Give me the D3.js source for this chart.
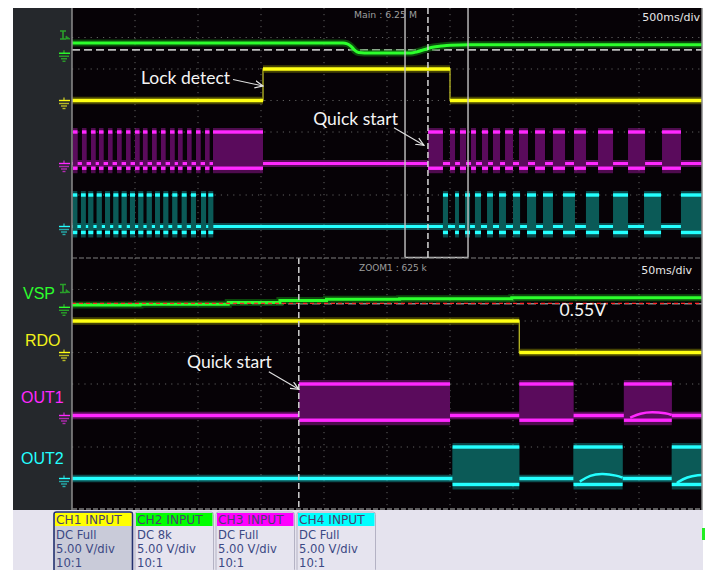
<!DOCTYPE html>
<html><head><meta charset="utf-8">
<script src="https://cdn.jsdelivr.net/npm/d3@7/dist/d3.min.js"></script>
<style>html,body{margin:0;padding:0;background:#fff;} svg{display:block;}</style>
</head><body><svg id="c" width="712" height="570"></svg>
<script>
// ================= DATA =================
const mainWindowMs = [0, 5000];          // Main : 500 ms/div, 10 divisions
const zoomWindowMs = [0, 500];           // ZOOM1 : 50 ms/div
const zoomBoxInMainMs = [2643, 3143];    // zoom window shown inside the main view
const quickStartMainMs = 2825;
const quickStartZoomMs = 180;
const lockDetectMs = 1516;

const channelIds   = ["CH1", "CH2", "CH3", "CH4"];
const channelNames = ["RDO", "VSP", "OUT1", "OUT2"];
const couplings    = ["DC Full", "DC 8k", "DC Full", "DC Full"];
const scaleTexts   = ["5.00 V/div", "5.00 V/div", "5.00 V/div", "5.00 V/div"];
const probeTexts   = ["10:1", "10:1", "10:1", "10:1"];
const voltsPerDiv  = [5, 5, 5, 5];
const groundDivMain = [3, 1.5, 5, 7];    // channel offsets (divisions from top)
const groundDivZoom = [3, 1.55, 5, 7];
const vspThresholdV = 0.55;
const vspTriggerV = 2.9;

// main view (ms, V)
const mainRdo = [[0,0],[1516,0],[1516,5],[3000,5],[3000,0],[5000,0]];
const mainVsp = [[0,1.62],[2150,1.62],[2185,1.5],[2215,1.1],[2245,0.45],[2275,0.12],[2320,0.05],[2690,0.05],[2740,0.25],[2800,0.6],[2860,0.95],[2930,1.15],[3000,1.28],[3150,1.33],[5000,1.33]];
const mainOut1Bursts = [[8,44],[79,115],[151,187],[214,250],[286,321],[357,393],[429,464],[500,536],[563,599],[635,671],[706,742],[778,814],[841,877],[913,948],[984,1020],[1056,1091],[1119,1516],
  [2825,2944],[3000,3040],[3079,3127],[3167,3206],[3254,3302],[3341,3397],[3437,3500],[3548,3619],[3675,3754],[3817,3913],[3984,4079],[4175,4294],[4413,4548],[4683,4833]];
const mainOut2Bursts = [[6,42],[71,109],[129,169],[196,236],[262,302],[328,368],[394,434],[460,500],[526,566],[593,633],[659,698],[725,764],[796,836],[871,910],[944,984],[1024,1064],[1082,1121],
  [2944,2984],[3040,3071],[3119,3159],[3198,3246],[3294,3341],[3389,3444],[3500,3556],[3611,3683],[3738,3817],[3897,3992],[4079,4183],[4294,4413],[4540,4675],[4833,5000]];

// zoom view (ms, V)
const zoomRdo = [[0,5],[355,5],[355,0],[500,0]];
const zoomVsp = [[0,0.29],[54,0.4],[124,0.7],[165,1.0],[202,1.2],[260,1.3],[349,1.44],[500,1.44]];
const zoomOut1Bursts = [[180,300],[355,398],[438,476]];
const zoomOut2Bursts = [[302,355],[398,437],[476,500]];
const zoomOut1Arcs = [[[443,-0.35],[451,0.35],[460,0.6],[472,0.35],[476,0.08]]];
const zoomOut2Arcs = [[[403,-0.5],[411,0.55],[421,0.83],[433,0.44],[437,0.13]],[[480,-0.71],[488,0.28],[498,0.55],[500,0.56]]];
const out1BurstV = [5, -0.75];
const out2BurstV = [5, -0.95];

// ================= STYLE =================
const chColor = ["#ffff14", "#2cff2c", "#ff28ff", "#24ffff"];
const chHalo  = ["#6f6f00", "#127a12", "#8a148a", "#0f7f7f"];
const chFill  = ["#5a5a00", "#0a500a", "#5a0b5c", "#0b5a57"];
const chDim   = ["#b9b925", "#2aa02a", "#b12ab1", "#25adad"];
const headerColor = ["#ffff00", "#00ff00", "#ff00ff", "#00ffff"];

const svg = d3.select("#c");
const X0 = 72, X1 = 702;
const xMain = d3.scaleLinear().domain(mainWindowMs).range([X0, X1]);
const xZoom = d3.scaleLinear().domain(zoomWindowMs).range([X0, X1]);
const divMain = d3.scaleLinear().domain([0, 8]).range([6, 258]);
const divZoom = d3.scaleLinear().domain([0, 8]).range([258, 510]);
const chY = (divScale, grounds, ch) => v => divScale(grounds[ch] - v / voltsPerDiv[ch]);

// backgrounds
svg.append("rect").attr("width", 712).attr("height", 570).attr("fill", "#ffffff");
svg.append("rect").attr("x", 13).attr("y", 8).attr("width", X0 - 13).attr("height", 502).attr("fill", "#25282c");
svg.append("rect").attr("x", X0).attr("y", 8).attr("width", X1 - X0).attr("height", 502).attr("fill", "#060206");
svg.append("rect").attr("x", 13).attr("y", 510).attr("width", 690).attr("height", 60).attr("fill", "#e5e3ee");

const defs = svg.append("defs");
defs.append("clipPath").attr("id", "clipMain").append("rect").attr("x", X0).attr("y", 8).attr("width", X1 - X0).attr("height", 250);
defs.append("clipPath").attr("id", "clipZoom").append("rect").attr("x", X0).attr("y", 258).attr("width", X1 - X0).attr("height", 252);
defs.append("marker").attr("id", "arr").attr("viewBox", "0 0 10 10").attr("refX", 9).attr("refY", 5)
  .attr("markerWidth", 9).attr("markerHeight", 9).attr("markerUnits", "userSpaceOnUse").attr("orient", "auto")
  .append("path").attr("d", "M0,1 L9,5 L0,9").attr("fill", "none").attr("stroke", "#e8e8e8").attr("stroke-width", 1.3);

function grid(x, divScale, y0, y1) {
  const g = svg.append("g");
  x.ticks(10).slice(1, -1).forEach(t => {
    g.append("line").attr("x1", x(t)).attr("x2", x(t)).attr("y1", y0).attr("y2", y1)
      .attr("stroke", "#5e5e5e").attr("stroke-width", 1).attr("stroke-dasharray", "1.2,4.8");
  });
  divScale.ticks(8).slice(1, -1).forEach(d => {
    g.append("line").attr("x1", X0).attr("x2", X1).attr("y1", divScale(d)).attr("y2", divScale(d))
      .attr("stroke", "#5e5e5e").attr("stroke-width", 1).attr("stroke-dasharray", "1.2,5");
  });
}
grid(xMain, divMain, 8, 258);
grid(xZoom, divZoom, 258, 510);

function trace(g, data, x, y, ch, w, curve) {
  const line = d3.line().x(d => x(d[0])).y(d => y(d[1])).curve(curve || d3.curveLinear);
  g.append("path").attr("d", line(data)).attr("fill", "none").attr("stroke", chHalo[ch])
    .attr("stroke-width", w + 4).attr("stroke-opacity", 0.6);
  g.append("path").attr("d", line(data)).attr("fill", "none").attr("stroke", chColor[ch]).attr("stroke-width", w);
}
// logic-level trace: thin edges, thick flat levels
function stepTrace(g, data, x, y, ch, w) {
  const line = d3.line().x(d => x(d[0])).y(d => y(d[1]));
  g.append("path").attr("d", line(data)).attr("fill", "none").attr("stroke", chDim[ch]).attr("stroke-width", 1.3);
  const flats = d3.pairs(data).filter(([a, b]) => a[1] === b[1]);
  g.selectAll(null).data(flats).join("line")
    .attr("x1", d => x(d[0][0])).attr("x2", d => x(d[1][0])).attr("y1", d => y(d[0][1])).attr("y2", d => y(d[1][1]))
    .attr("stroke", chHalo[ch]).attr("stroke-width", w + 4).attr("stroke-opacity", 0.6);
  g.selectAll(null).data(flats).join("line")
    .attr("x1", d => x(d[0][0])).attr("x2", d => x(d[1][0])).attr("y1", d => y(d[0][1])).attr("y2", d => y(d[1][1]))
    .attr("stroke", chColor[ch]).attr("stroke-width", w);
}
function bursts(g, data, x, y, lv, ch) {
  const [hi, lo] = lv;
  const b = g.append("g");
  b.selectAll("rect.h").data(data).join("rect")
    .attr("x", d => x(d[0])).attr("width", d => Math.max(1, x(d[1]) - x(d[0])))
    .attr("y", y(hi) - 4).attr("height", y(lo) - y(hi) + 9).attr("fill", chHalo[ch]).attr("opacity", 0.55);
  b.selectAll("rect.f").data(data).join("rect")
    .attr("x", d => x(d[0])).attr("width", d => Math.max(1, x(d[1]) - x(d[0])))
    .attr("y", y(hi)).attr("height", y(lo) - y(hi)).attr("fill", chFill[ch]);
  [hi, lo].forEach(v => {
    b.selectAll(null).data(data).join("rect")
      .attr("x", d => x(d[0])).attr("width", d => Math.max(1, x(d[1]) - x(d[0])))
      .attr("y", y(v) - 1.7).attr("height", 3.4).attr("fill", chColor[ch]);
  });
}

// ---------- MAIN VIEW ----------
const gm = svg.append("g").attr("clip-path", "url(#clipMain)");
const ym = [0, 1, 2, 3].map(ch => chY(divMain, groundDivMain, ch));
gm.append("line").attr("x1", X0).attr("x2", X1).attr("y1", ym[1](vspThresholdV)).attr("y2", ym[1](vspThresholdV))
  .attr("stroke", "#bdbdbd").attr("stroke-width", 1.8).attr("stroke-dasharray", "8,4");
trace(gm, mainVsp, xMain, ym[1], 1, 3, d3.curveMonotoneX);
stepTrace(gm, mainRdo, xMain, ym[0], 0, 3.5);
trace(gm, [[mainWindowMs[0], 0], [mainWindowMs[1], 0]], xMain, ym[2], 2, 3);
bursts(gm, mainOut1Bursts, xMain, ym[2], out1BurstV, 2);
trace(gm, [[mainWindowMs[0], 0], [mainWindowMs[1], 0]], xMain, ym[3], 3, 3);
bursts(gm, mainOut2Bursts, xMain, ym[3], out2BurstV, 3);

// zoom box and quick-start cursor in main view
const zb = svg.append("g");
zoomBoxInMainMs.forEach(t => zb.append("line").attr("x1", xMain(t)).attr("x2", xMain(t)).attr("y1", 8).attr("y2", 257.5)
  .attr("stroke", "#c4c4c4").attr("stroke-width", 1.4));
zb.append("line").attr("x1", xMain(zoomBoxInMainMs[0])).attr("x2", xMain(zoomBoxInMainMs[1])).attr("y1", 257.5).attr("y2", 257.5)
  .attr("stroke", "#c4c4c4").attr("stroke-width", 1.4);
zb.append("line").attr("x1", xMain(quickStartMainMs)).attr("x2", xMain(quickStartMainMs)).attr("y1", 8).attr("y2", 258)
  .attr("stroke", "#d8d8d8").attr("stroke-width", 1.5).attr("stroke-dasharray", "6,3");

// ---------- ZOOM VIEW ----------
const gz = svg.append("g").attr("clip-path", "url(#clipZoom)");
const yz = [0, 1, 2, 3].map(ch => chY(divZoom, groundDivZoom, ch));
gz.append("line").attr("x1", X0).attr("x2", X1).attr("y1", yz[1](vspThresholdV) + 0.5).attr("y2", yz[1](vspThresholdV) + 0.5)
  .attr("stroke", "#8a8a8a").attr("stroke-width", 1.5).attr("stroke-dasharray", "8,4");
trace(gz, zoomVsp, xZoom, yz[1], 1, 3, d3.curveStepAfter);
gz.append("line").attr("x1", X0).attr("x2", X1).attr("y1", yz[1](vspThresholdV)).attr("y2", yz[1](vspThresholdV))
  .attr("stroke", "#ff2a2a").attr("stroke-width", 1.4).attr("stroke-dasharray", "4,3");
stepTrace(gz, zoomRdo, xZoom, yz[0], 0, 3.5);
trace(gz, [[zoomWindowMs[0], 0], [zoomWindowMs[1], 0]], xZoom, yz[2], 2, 3.5);
bursts(gz, zoomOut1Bursts, xZoom, yz[2], out1BurstV, 2);
trace(gz, [[zoomWindowMs[0], 0], [zoomWindowMs[1], 0]], xZoom, yz[3], 3, 3.5);
bursts(gz, zoomOut2Bursts, xZoom, yz[3], out2BurstV, 3);
const arcLine = (x, y) => d3.line().x(d => x(d[0])).y(d => y(d[1])).curve(d3.curveBasis);
zoomOut1Arcs.forEach(a => gz.append("path").attr("d", arcLine(xZoom, yz[2])(a)).attr("fill", "none").attr("stroke", chColor[2]).attr("stroke-width", 2.5));
zoomOut2Arcs.forEach(a => gz.append("path").attr("d", arcLine(xZoom, yz[3])(a)).attr("fill", "none").attr("stroke", chColor[3]).attr("stroke-width", 2.5));
svg.append("line").attr("x1", xZoom(quickStartZoomMs)).attr("x2", xZoom(quickStartZoomMs)).attr("y1", 258).attr("y2", 510)
  .attr("stroke", "#d0d0d0").attr("stroke-width", 1.5).attr("stroke-dasharray", "6,3");

// borders
const bd = svg.append("g");
bd.append("line").attr("x1", X0).attr("x2", X0).attr("y1", 8).attr("y2", 510).attr("stroke", "#8c8c8c").attr("stroke-width", 1.5);
bd.append("line").attr("x1", X1).attr("x2", X1).attr("y1", 8).attr("y2", 510).attr("stroke", "#8a8a8a").attr("stroke-width", 1.5);
bd.append("line").attr("x1", X0).attr("x2", X1).attr("y1", 258).attr("y2", 258).attr("stroke", "#7e7e7e").attr("stroke-width", 1.2).attr("stroke-dasharray", "5,2");
bd.append("line").attr("x1", X0).attr("x2", X1).attr("y1", 509).attr("y2", 509).attr("stroke", "#7e7e7e").attr("stroke-width", 1.5).attr("stroke-dasharray", "5,2");

// ground and trigger markers
function groundMark(y0, ch) {
  const g = svg.append("g").attr("stroke", chDim[ch]).attr("stroke-width", 1.4);
  g.append("line").attr("x1", 64).attr("x2", 64).attr("y1", y0 - 3).attr("y2", y0);
  g.append("line").attr("x1", 59).attr("x2", 70).attr("y1", y0).attr("y2", y0).attr("stroke", chColor[ch]);
  g.append("line").attr("x1", 59).attr("x2", 69).attr("y1", y0 + 3).attr("y2", y0 + 3);
  g.append("line").attr("x1", 61).attr("x2", 67).attr("y1", y0 + 5.5).attr("y2", y0 + 5.5);
  g.append("line").attr("x1", 62.5).attr("x2", 65.5).attr("y1", y0 + 8).attr("y2", y0 + 8);
}
function triggerMark(y0, ch) {
  const g = svg.append("g").attr("stroke", chDim[ch]).attr("stroke-width", 1.6).attr("fill", "none");
  g.append("path").attr("d", `M60,${y0 - 4}H66M63,${y0 - 4}V${y0 + 4}M60,${y0 + 4}H66`);
  g.append("path").attr("d", `M66,${y0 + 1}L70,${y0 + 4}H66Z`).attr("fill", chDim[ch]).attr("stroke-width", 0.8);
}
[0, 1, 2, 3].forEach(ch => { groundMark(ym[ch](0), ch); groundMark(yz[ch](0) + (ch === 1 ? 0.5 : 0), ch); });
triggerMark(ym[1](vspTriggerV), 1);
triggerMark(yz[1](vspTriggerV), 1);

// ---------- TEXTS ----------
const sans = "'Liberation Sans', Arial, sans-serif";
const lato = "Lato, 'Open Sans', sans-serif";
const dv = "'DejaVu Sans', sans-serif";
svg.append("text").attr("x", 354).attr("y", 17.5).attr("font-family", dv).attr("font-size", 9.3).attr("fill", "#9e9e9e").text("Main : 6.25 M");
svg.append("text").attr("x", 359).attr("y", 270.5).attr("font-family", dv).attr("font-size", 9).attr("fill", "#9e9e9e").text("ZOOM1 : 625 k");
svg.append("text").attr("x", 700).attr("y", 21).attr("text-anchor", "end").attr("font-family", dv).attr("font-size", 11).attr("fill", "#e6e6e6").text("500ms/div");
svg.append("text").attr("x", 692).attr("y", 273.5).attr("text-anchor", "end").attr("font-family", dv).attr("font-size", 11).attr("fill", "#e6e6e6").text("50ms/div");

const labelPos = [[25, 346], [23, 298.5], [21, 403], [21, 463.5]];
[1, 0, 2, 3].forEach(ch => svg.append("text").attr("x", labelPos[ch][0]).attr("y", labelPos[ch][1])
  .attr("font-family", sans).attr("font-size", 16).attr("fill", chColor[ch] === "#ffff14" ? "#f2f21a" : chColor[ch]).text(channelNames[ch]));

// annotations: [text, target x, target y, arrow offset, text offset]
const notes = [
  ["Lock detect", xMain(lockDetectMs), ym[0](2.3), -30, -6.5, -3, 4],
  ["Quick start", xMain(quickStartMainMs) - 4, ym[2](2.9), -30, -17.5, 4, -2.5],
  ["Quick start", xZoom(quickStartZoomMs), yz[2](4.16), -30, -17.6, 3, -3.4]
];
notes.forEach(([t, tx, ty, dx, dy, ox, oy]) => {
  const sx = tx + dx, sy = ty + dy;
  svg.append("line").attr("x1", sx).attr("y1", sy).attr("x2", tx).attr("y2", ty)
    .attr("stroke", "#e0e0e0").attr("stroke-width", 1.1).attr("marker-end", "url(#arr)");
  svg.append("text").attr("x", sx + ox).attr("y", sy + oy).attr("text-anchor", "end")
    .attr("font-family", lato).attr("font-size", 17.5).attr("fill", "#f4f4f4").text(t);
});
svg.append("text").attr("x", xZoom(387)).attr("y", yz[1](vspThresholdV) + 12.7).attr("font-family", lato)
  .attr("font-size", 17.5).attr("fill", "#f4f4f4").text(vspThresholdV.toFixed(2) + "V");

// ---------- CHANNEL PANEL ----------
channelIds.forEach((id, i) => {
  const bx = 54 + i * 81, by = 512, bw = 78.5, bh = 60;
  const g = svg.append("g");
  const sel = i === 0;
  g.append("rect").attr("x", bx).attr("y", by).attr("width", bw).attr("height", bh).attr("rx", 2.5)
    .attr("fill", sel ? "#c9cbd9" : "#e6e4ef").attr("stroke", sel ? "#24316f" : "#b4b2c4").attr("stroke-width", sel ? 1.6 : 1);
  g.append("rect").attr("x", bx + 1).attr("y", by + 1).attr("width", bw - 2).attr("height", 13).attr("fill", headerColor[i]);
  g.append("text").attr("x", bx + 2).attr("y", by + 12).attr("font-family", dv).attr("font-size", 12.2)
    .attr("fill", "#4a3f6e").text(id + " INPUT");
  [couplings[i], scaleTexts[i], probeTexts[i]].forEach((t, k) => {
    g.append("text").attr("x", bx + 2).attr("y", by + 27 + k * 14.2).attr("font-family", dv).attr("font-size", 11.6)
      .attr("fill", "#3b4884").text(t);
  });
});
svg.append("rect").attr("x", 702).attr("y", 528).attr("width", 3).attr("height", 12).attr("fill", "#22ee22");
</script></body></html>
